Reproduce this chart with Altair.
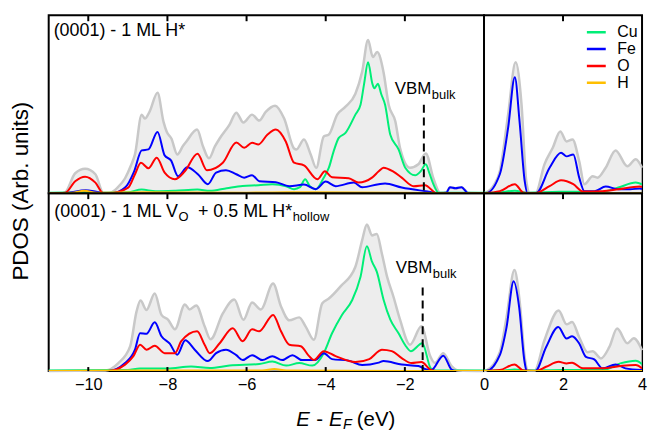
import altair as alt
import pandas as pd

FONT = "Liberation Sans"
SPECIES = ["Cu", "Fe", "O", "H"]
COLORS = ["#00ee77", "#0000ff", "#ff0000", "#ffbf00"]

# ---------------- data: (E - E_F in eV, PDOS in arb. units) ----------------
TOP_TOTAL = [(-11, 0), (-10.6, 0.5), (-10.33, 20), (-10.08, 24.5), (-9.82, 19), (-9.62, 0.5),
             (-9.45, 0.5), (-9.25, 6), (-9.07, 15), (-8.92, 28), (-8.82, 39), (-8.65, 79),
             (-8.57, 75), (-8.45, 82), (-8.25, 101), (-8.1, 72), (-8.02, 62), (-7.9, 55),
             (-7.75, 39), (-7.6, 48), (-7.52, 52), (-7.25, 64), (-7.1, 47), (-6.95, 35),
             (-6.8, 47), (-6.68, 55), (-6.43, 69), (-6.26, 81), (-6.08, 71), (-5.86, 79),
             (-5.68, 73), (-5.51, 82), (-5.28, 88), (-5.05, 75), (-4.8, 45), (-4.74, 44),
             (-4.55, 54), (-4.38, 39), (-4.24, 25.5), (-4.05, 57), (-3.92, 59), (-3.71, 79),
             (-3.5, 87), (-3.25, 100), (-3.08, 122), (-2.93, 154), (-2.81, 137), (-2.7, 142),
             (-2.54, 122), (-2.41, 89), (-2.24, 72), (-2.12, 45), (-1.87, 25.5), (-1.66, 29),
             (-1.47, 40), (-1.28, 15), (-1.11, 0.5), (-0.95, 1), (-0.86, 6), (-0.72, 5),
             (-0.57, 6), (-0.4, 0.5), (0, 0),
             (0.05, 0.5), (0.25, 8), (0.4, 22), (0.61, 79), (0.8, 131.6), (0.95, 89), (1.07, 12),
             (1.16, 0.5), (1.31, 0.5), (1.53, 29), (1.74, 45.6), (1.93, 62), (2.09, 52),
             (2.24, 54), (2.41, 32), (2.54, 9), (2.75, 17), (2.87, 15.6), (3.08, 25.6),
             (3.33, 43), (3.63, 27), (3.84, 34), (4.0, 25.6)]
TOP_CU = [(-11, 0.5), (-10.1, 1), (-9.5, 0.5), (-9.0, 1), (-8.65, 3.6), (-8.3, 2), (-7.8, 2.5),
          (-7.24, 3.6), (-6.93, 2.3), (-6.5, 5), (-6.1, 7.3), (-5.7, 8), (-5.35, 9), (-5.0, 7),
          (-4.8, 4), (-4.65, 6), (-4.52, 14), (-4.4, 7), (-4.25, 4), (-4.05, 15.6), (-3.92, 25.6),
          (-3.8, 42), (-3.67, 55.6), (-3.5, 60.6), (-3.25, 79), (-3.12, 89), (-3.03, 110),
          (-2.93, 131.6), (-2.82, 110), (-2.77, 105.6), (-2.68, 110), (-2.6, 100), (-2.5, 89),
          (-2.37, 59), (-2.16, 44), (-1.99, 25.6), (-1.74, 18), (-1.6, 22), (-1.47, 29),
          (-1.38, 20), (-1.28, 9), (-1.15, 0.5), (0, 0.5),
          (0.3, 0.5), (0.78, 2.5), (1.1, 0.5), (1.9, 1.5), (3.0, 1.5), (3.4, 5.6), (3.84, 10.6),
          (4.0, 9)]
TOP_FE = [(-11, 0), (-10.5, 0.5), (-10.08, 3), (-9.8, 1.5), (-9.6, 0), (-9.4, 0), (-9.07, 5.6),
          (-8.84, 22), (-8.65, 43), (-8.48, 44), (-8.25, 61.6), (-8.07, 38), (-7.91, 33),
          (-7.73, 17), (-7.5, 26), (-7.23, 19), (-6.98, 9), (-6.77, 20.6), (-6.52, 23),
          (-6.26, 19), (-6.06, 15.6), (-5.86, 18), (-5.68, 12), (-5.26, 11), (-4.92, 7),
          (-4.55, 8.6), (-4.25, 4), (-4.0, 11.6), (-3.75, 7), (-3.29, 10.6), (-3.08, 6),
          (-2.66, 9), (-2.5, 9.6), (-2.08, 5.6), (-1.48, 2), (-1.1, 0), (-0.95, 0.5),
          (-0.86, 6), (-0.72, 5), (-0.57, 6), (-0.4, 0), (0, 0),
          (0.05, 0), (0.4, 19), (0.61, 65.6), (0.78, 116.6), (0.9, 72), (1.03, 12), (1.1, 0),
          (1.32, 0), (1.66, 25.6), (1.95, 40.6), (2.09, 37), (2.26, 39), (2.41, 15.6),
          (2.54, 2), (2.8, 2), (3.08, 6.6), (3.4, 4), (3.7, 4), (3.95, 4.6), (4.0, 4)]
TOP_O = [(-11, 0), (-10.58, 0.5), (-10.33, 12), (-10.08, 16.6), (-9.82, 10.6), (-9.62, 0),
         (-9.45, 0), (-8.99, 5.6), (-8.82, 19), (-8.67, 30.6), (-8.48, 25), (-8.27, 35.6),
         (-8.07, 20.6), (-7.81, 14), (-7.56, 22), (-7.24, 39.6), (-7.0, 23), (-6.6, 30.6),
         (-6.26, 51), (-6.06, 45.6), (-5.86, 50.6), (-5.7, 49), (-5.47, 59), (-5.26, 64),
         (-5.01, 52), (-4.8, 30.6), (-4.55, 28), (-4.21, 14), (-4.02, 22), (-3.84, 16),
         (-3.42, 15), (-3.17, 10.6), (-2.83, 15.6), (-2.66, 22), (-2.54, 25.6), (-2.29, 21.6),
         (-2.08, 15.6), (-1.78, 7), (-1.49, 8), (-1.2, 0), (0, 0),
         (0.4, 2), (0.78, 9), (1.0, 0.5), (1.3, 0), (1.66, 7), (1.95, 13), (2.26, 9),
         (2.5, 1.7), (3.0, 2), (3.4, 4), (3.95, 6.6), (4.0, 6)]
TOP_H = [(-11, 0), (-10.4, 0.5), (-10.1, 2.5), (-9.8, 0.5), (-8.6, 1), (-6, 0.5), (-5, 1),
         (0, 0), (4, 0)]

BOT_TOTAL = [(-11, 0), (-9.57, 0.5), (-9.24, 8), (-8.94, 25), (-8.78, 60), (-8.68, 71),
             (-8.53, 61.5), (-8.32, 78), (-8.15, 56.5), (-7.98, 51.5), (-7.81, 42), (-7.56, 67),
             (-7.44, 62), (-7.27, 66), (-7.06, 45), (-6.91, 32), (-6.6, 58), (-6.31, 72),
             (-6.08, 51.5), (-5.86, 69), (-5.64, 62), (-5.33, 88), (-5.13, 65), (-4.92, 51),
             (-4.67, 54), (-4.51, 45), (-4.3, 31.5), (-4.09, 68), (-3.92, 73), (-3.63, 85),
             (-3.25, 105), (-3.08, 131.5), (-2.96, 147.5), (-2.83, 136.5), (-2.71, 138),
             (-2.58, 118), (-2.45, 95), (-2.29, 75), (-2.12, 51.5), (-1.87, 26.5), (-1.58, 45),
             (-1.36, 15), (-1.24, 8), (-1.03, 18), (-0.82, 5), (-0.65, 0.5), (0, 0),
             (0.05, 0.5), (0.4, 19), (0.57, 54), (0.77, 101.6), (0.9, 71), (1.03, 14),
             (1.1, 0.5), (1.28, 0.5), (1.53, 31), (1.89, 61), (2.09, 47), (2.23, 49.3),
             (2.41, 34), (2.62, 19), (2.75, 20), (2.96, 12.7), (3.17, 24), (3.37, 42.7),
             (3.63, 28), (3.79, 33), (4.0, 21)]
BOT_CU = [(-11, 0.5), (-9.0, 1), (-8.7, 2.5), (-8.0, 2.5), (-7.4, 4.5), (-6.93, 3), (-6.43, 5.5),
          (-5.68, 7), (-5.35, 9.5), (-5.0, 5.5), (-4.67, 8), (-4.34, 5.5), (-4.05, 18),
          (-3.84, 38), (-3.59, 56.5), (-3.33, 71.5), (-3.12, 95), (-2.96, 125.5), (-2.83, 110),
          (-2.71, 100), (-2.54, 72), (-2.37, 52), (-2.16, 38), (-1.99, 26), (-1.85, 20),
          (-1.56, 28), (-1.35, 3), (-1.25, 0.5), (0, 0.5),
          (0.5, 0.5), (0.77, 1.5), (1.1, 0.5), (2.0, 1), (3.0, 1), (3.45, 7.7), (3.84, 10.3),
          (4.0, 7)]
BOT_FE = [(-11, 0), (-9.5, 0), (-9.07, 8), (-8.82, 21.5), (-8.69, 38), (-8.53, 37.5),
          (-8.32, 49), (-8.15, 35), (-7.94, 27.5), (-7.75, 16.5), (-7.55, 31), (-7.31, 21.5),
          (-6.98, 10), (-6.77, 18), (-6.52, 21.5), (-6.26, 16), (-6.1, 11), (-5.86, 16),
          (-5.6, 11), (-5.35, 15), (-5.1, 11), (-4.84, 16), (-4.6, 11), (-4.27, 11),
          (-4.05, 18), (-3.84, 12), (-3.42, 10.5), (-3.08, 6), (-2.66, 8.5), (-2.54, 10),
          (-2.08, 6.5), (-1.66, 5), (-1.45, 1.5), (-1.33, 1), (-1.03, 15.5), (-0.82, 1.5),
          (-0.7, 0), (0, 0),
          (0.05, 0), (0.4, 16), (0.57, 44), (0.75, 90.3), (0.89, 64), (1.02, 11), (1.08, 0),
          (1.3, 0), (1.57, 24), (1.88, 44.3), (2.09, 32.7), (2.23, 35), (2.41, 27.7),
          (2.58, 14.3), (2.79, 11.7), (3.0, 2.7), (3.33, 6.7), (3.58, 2.7), (4.0, 1)]
BOT_O = [(-11, 0), (-9.5, 0), (-9.07, 6.5), (-8.86, 15), (-8.69, 26.5), (-8.53, 21.5),
         (-8.32, 25.5), (-8.07, 18), (-7.81, 18), (-7.65, 30), (-7.25, 40), (-7.06, 26.5),
         (-6.93, 18), (-6.68, 28), (-6.35, 43), (-6.1, 30), (-5.86, 42), (-5.68, 40),
         (-5.33, 56.5), (-5.13, 40), (-4.92, 26.5), (-4.63, 25), (-4.42, 15), (-4.3, 11),
         (-4.05, 20), (-3.75, 15), (-3.25, 9), (-2.9, 12), (-2.66, 20), (-2.58, 21.5),
         (-2.33, 20), (-2.08, 13), (-1.83, 8), (-1.58, 9), (-1.36, 1.5), (-1.2, 0), (0, 0),
         (0.4, 1), (0.77, 6.7), (1.0, 0.5), (1.3, 0), (1.57, 4.3), (1.89, 9.3), (2.09, 7.7),
         (2.23, 8.3), (2.5, 2.7), (3.0, 2.7), (3.5, 5.3), (3.84, 6), (4.0, 2.7)]
BOT_H = [(-11, 0), (-9, 0.5), (-5.6, 0.5), (-5.3, 2), (-5.0, 0.5), (0, 0), (4, 0)]

VBM_TOP = (-1.52, 89)   # (energy, height of dashed marker)
VBM_BOT = (-1.55, 84)

LEFT_TICKS = [-10, -8, -6, -4, -2]
RIGHT_TICKS = [2]
LEFT_LABELS = [-10, -8, -6, -4, -2, 0]
RIGHT_LABELS = [2, 4]

SERIES = {
    "top": {"Total": TOP_TOTAL, "Cu": TOP_CU, "Fe": TOP_FE, "O": TOP_O, "H": TOP_H},
    "bot": {"Total": BOT_TOTAL, "Cu": BOT_CU, "Fe": BOT_FE, "O": BOT_O, "H": BOT_H},
}

records = []
for row, group in SERIES.items():
    for name, pts in group.items():
        for e, v in pts:
            records.append({"row": row, "series": name, "E": e, "v": v})
df = pd.DataFrame(records)

LEGEND = alt.Legend(orient="none", legendX=540, legendY=9, title=None, symbolType="stroke",
                    symbolSize=361, symbolStrokeWidth=2.5, labelFontSize=16, labelFont=FONT,
                    labelColor="black", labelOffset=10, clipHeight=16, rowPadding=1, padding=0)

PH = 179
TF = 18      # panel title font size
SF = 13      # subscript font size


def txt(text, x, y, size, style="normal", align="left", baseline="alphabetic", angle=0):
    return alt.Chart(pd.DataFrame({"t": [text]})).mark_text(
        align=align, baseline=baseline, fontSize=size, fontStyle=style, font=FONT,
        color="black", angle=angle).encode(x=alt.value(x), y=alt.value(y), text="t:N")


def panel(row, side):
    if side == "L":
        d = df[(df.row == row) & (df.E <= 0)]
        dom, w, ticks, labels = [-11, 0], 438, LEFT_TICKS, LEFT_LABELS
    else:
        d = df[(df.row == row) & (df.E >= 0)]
        dom, w, ticks, labels = [0, 4], 159, RIGHT_TICKS, RIGHT_LABELS
    xs = alt.Scale(domain=dom, nice=False, zero=False)
    ys = alt.Scale(domain=[0, PH], nice=False)
    if row == "bot":
        ax = alt.Axis(values=labels, labelFontSize=16.5, labelFont=FONT, labelColor="black",
                      ticks=False, tickSize=0, domain=False, grid=False, labelFlush=False,
                      labelBaseline="alphabetic", labelPadding=19, labelOverlap=False)
    else:
        ax = None
    x = alt.X("E:Q", scale=xs, axis=ax, title=None)
    y = alt.Y("v:Q", scale=ys, axis=None)

    area = alt.Chart(d[d.series == "Total"]).mark_area(
        interpolate="monotone", color="#e6e6e6",
        line={"color": "#c8c8c8", "strokeWidth": 2.5}).encode(x=x, y=y)
    lines = alt.Chart(d[d.series != "Total"]).mark_line(
        interpolate="monotone", strokeWidth=2, clip=True).encode(
        x=x, y=y,
        color=alt.Color("series:N", scale=alt.Scale(domain=SPECIES, range=COLORS), legend=LEGEND))
    tdf = pd.DataFrame({"E": ticks})
    layers = [area, lines,
              alt.Chart(tdf).mark_rule(color="black", strokeWidth=2).encode(
                  x=x, y=alt.value(0), y2=alt.value(6))]
    if row == "bot":
        layers.append(alt.Chart(tdf).mark_rule(color="black", strokeWidth=2).encode(
            x=x, y=alt.value(PH), y2=alt.value(PH - 4)))

    if side == "L":
        vbm = VBM_TOP if row == "top" else VBM_BOT
        vdf = pd.DataFrame({"E": [vbm[0]], "v": [vbm[1]], "b": [0]})
        layers.append(alt.Chart(vdf).mark_rule(color="black", strokeWidth=2, strokeDash=[8, 5]).encode(
            x=x, y=y, y2="b:Q"))
        if row == "top":
            layers += [txt("VBM", 385, 79, 17, align="right"), txt("bulk", 385.5, 84, 13),
                       txt("(0001) - 1 ML H*", 5, 20.5, TF),
                       txt("PDOS (Arb. units)", -28, 177, 22.5, angle=270, align="center",
                           baseline="middle")]
        else:
            layers += [txt("VBM", 386, 80, 17, align="right"), txt("bulk", 386.5, 85, 13),
                       txt("(0001) - 1 ML V", 130, 23.7, TF, align="right"),
                       txt("O", 130.5, 27.7, SF),
                       txt("+ 0.5 ML H*", 245, 23.7, TF, align="right"),
                       txt("hollow", 245.5, 27.7, SF),
                       txt("E", 249, 234, 20.5, style="italic"),
                       txt("-", 272.5, 234, 20.5, align="center"),
                       txt("E", 282, 234, 20.5, style="italic"),
                       txt("F", 296, 237.5, 14.5, style="italic"),
                       txt("(eV)", 310, 234, 20.5)]
    return alt.layer(*layers).properties(width=w, height=PH)


chart = alt.concat(panel("top", "L"), panel("top", "R"), panel("bot", "L"), panel("bot", "R"),
                   columns=2, spacing=0, bounds="flush").configure_view(
    stroke="black", strokeWidth=2).properties(
    padding={"left": 9, "top": 12, "right": 0, "bottom": 0}, background="white")

chart.save("out.html", embed_options={"renderer": "svg", "actions": False})
